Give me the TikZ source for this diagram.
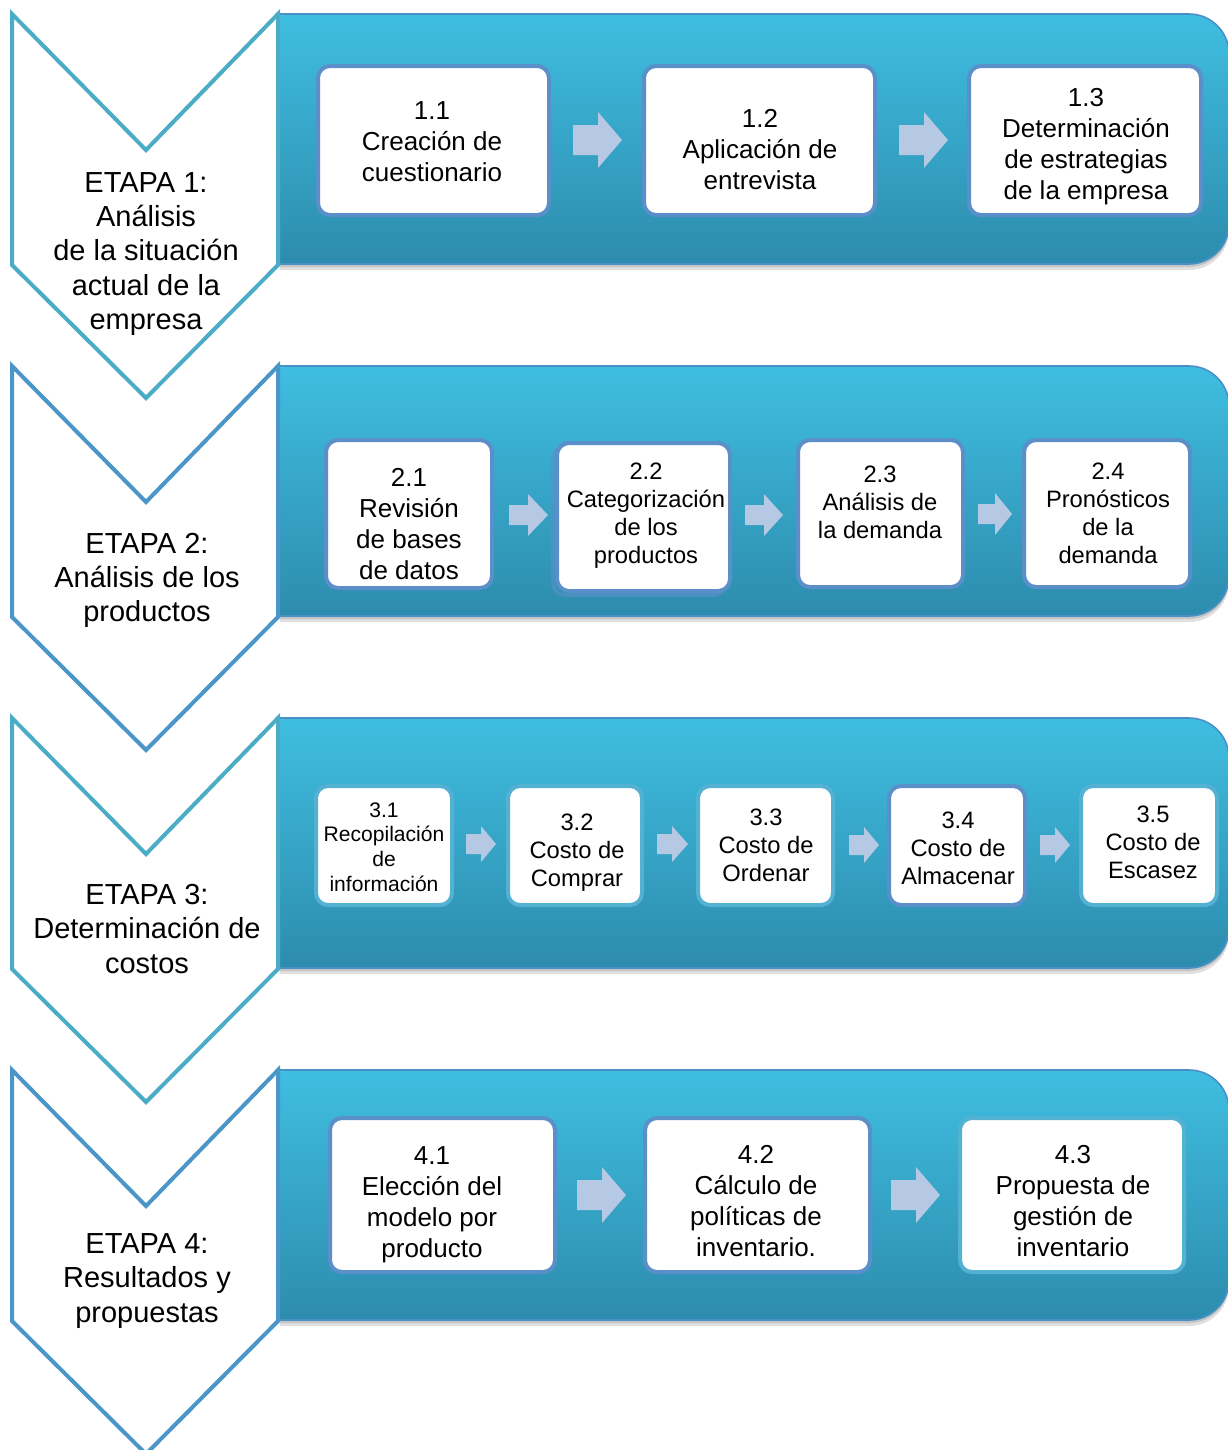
\documentclass[tikz,border=0pt]{standalone}
\usepackage{fontspec}
\setmainfont{Liberation Sans}
\usetikzlibrary{fit}
\definecolor{paneltop}{HTML}{3FBEE1}
\definecolor{panelbot}{HTML}{2D8CAD}
\definecolor{panelline}{HTML}{4A90C6}
\definecolor{chevteal}{HTML}{4BACC6}
\definecolor{chevblue}{HTML}{4A96C8}
\definecolor{arrowfill}{HTML}{B5C8E4}
\definecolor{boxblue}{HTML}{5B8FC9}
\definecolor{boxteal}{HTML}{55B1D2}
\newcommand{\blkarrow}[6]{% x1, xhead, x2, yc, shaft half, head half
  \fill[arrowfill] (#1,{#4-#5}) -- (#2,{#4-#5}) -- (#2,{#4-#6}) -- (#3,#4) -- (#2,{#4+#6}) -- (#2,{#4+#5}) -- (#1,{#4+#5}) -- cycle;}
\tikzset{
  chevron/.style={fill=white, line width=3pt, line join=miter},
  panel/.style={top color=paneltop, bottom color=panelbot, draw=panelline, line width=1.2pt, rounded corners=30pt},
  panelshadow/.style={fill=black, opacity=0.12, rounded corners=30pt},
  boxb/.style={draw=boxblue, fill=white, line width=3pt, rounded corners=9pt, inner sep=0pt},
  boxt/.style={boxb, draw=boxteal},
  etapa/.style={align=center, font=\fontsize{21.75}{25.8}\selectfont, inner sep=0pt, yshift=-2.6pt},
  tbig/.style={align=center, font=\fontsize{19.5}{23.25}\selectfont, inner sep=0pt, yshift=-2.25pt},
  tmid/.style={align=center, font=\fontsize{17.8}{21}\selectfont, inner sep=0pt, yshift=-2.25pt},
  tsmall/.style={align=center, font=\fontsize{15.8}{18.5}\selectfont, inner sep=0pt, yshift=-1.5pt},
}
\begin{document}
\begin{tikzpicture}[x=0.75pt, y=-0.75pt]
\clip (0,0) rectangle (1228,1450);
\fill[white] (0,0) rectangle (1228,1450);
% panels
\begin{scope}
  \clip (279.5,0) rectangle (1240,1450);
  \foreach \dy in {0,352,704,1056} {
    \fill[panelshadow] (238,{19+\dy}) rectangle (1229,{270+\dy});
    \fill[panelshadow] (238,{17+\dy}) rectangle (1229,{267+\dy});
    \path[panel] (238,{14+\dy}) rectangle (1229,{264+\dy});
  }
\end{scope}
% chevrons
\foreach \dy/\col in {0/chevteal,352/chevblue,704/chevteal,1056/chevblue} {
  \draw[chevron, draw=\col] (12,{14+\dy}) -- (146,{150+\dy}) -- (278,{14+\dy}) -- (278,{265+\dy}) -- (146,{398+\dy}) -- (12,{265+\dy}) -- cycle;
}
\node[etapa] (e1) at (146,250.5) {ETAPA 1:\\Análisis\\de la situación\\actual de la\\empresa};
\node[etapa] (e2) at (147,577) {ETAPA 2:\\Análisis de los\\productos};
\node[etapa] (e3) at (147,925.5) {ETAPA 3:\\Determinación de\\costos};
\node[etapa] (e4) at (147,1277.5) {ETAPA 4:\\Resultados y\\propuestas};

% row 1
\node[boxb, fit={(318,66) (549,215)}] (b11) {};
\node[boxb, fit={(644,66) (875,215)}] (b12) {};
\node[boxb, fit={(969,66) (1201,215)}] (b13) {};
\node[tbig] (t11) at (432,139) {1.1\\Creación de\\cuestionario};
\node[tbig] (t12) at (760,147) {1.2\\Aplicación de\\entrevista};
\node[tbig] (t13) at (1086,143.5) {1.3\\Determinación\\de estrategias\\de la empresa};
\blkarrow{573}{598}{622}{140}{15}{28}
\blkarrow{899}{924}{948}{140}{15}{28}

% row 2
\node[boxb, fit={(326,440) (492,588)}] (b21) {};
\draw[boxb, fill=none, draw opacity=0.6] (553,447) rectangle (726,595);
\node[boxb, fit={(557,443) (730,591)}] (b22) {};
\node[boxb, fit={(798,440) (963,587)}] (b23) {};
\node[boxb, fit={(1024,440) (1190,587)}] (b24) {};
\node[tbig] (t21) at (409,521.5) {2.1\\Revisión\\de bases\\de datos};
\node[tmid] (t22) at (646,512.5) {2.2\\Categorización\\de los\\productos};
\node[tmid] (t23) at (880,499.5) {2.3\\Análisis de\\la demanda};
\node[tmid] (t24) at (1108,510.5) {2.4\\Pronósticos\\de la\\demanda};
\blkarrow{509}{528}{548}{515}{10}{21}
\blkarrow{745}{764}{783}{515}{10}{21}
\blkarrow{978}{995}{1012}{514}{10}{21}

% row 3
\node[boxt, fit={(316,786) (452,905)}] (b31) {};
\node[boxt, fit={(508,786) (642,905)}] (b32) {};
\node[boxt, fit={(698,786) (833,905)}] (b33) {};
\node[boxb, fit={(889,786) (1025,905)}] (b34) {};
\node[boxt, fit={(1081,786) (1217,905)}] (b35) {};
\node[tsmall] (t31) at (384,845) {3.1\\Recopilación\\de\\información};
\node[tmid] (t32) at (577,850) {3.2\\Costo de\\Comprar};
\node[tmid] (t33) at (766,842.5) {3.3\\Costo de\\Ordenar};
\node[tmid] (t34) at (958,845) {3.4\\Costo de\\Almacenar};
\node[tmid] (t35) at (1153,839.5) {3.5\\Costo de\\Escasez};
\blkarrow{466}{481}{496}{844}{10}{18}
\blkarrow{657}{672}{688}{844}{10}{18}
\blkarrow{849}{864}{879}{845}{10}{18}
\blkarrow{1040}{1055}{1070}{845}{10}{18}

% row 4
\node[boxb, fit={(330,1118) (555,1272)}] (b41) {};
\node[boxb, fit={(645,1118) (870,1272)}] (b42) {};
\node[boxt, fit={(960,1118) (1184,1272)}] (b43) {};
\node[tbig] (t41) at (432,1201.5) {4.1\\Elección del\\modelo por\\producto};
\node[tbig] (t42) at (756,1198) {4.2\\Cálculo de\\políticas de\\inventario.};
\node[tbig] (t43) at (1073,1198) {4.3\\Propuesta de\\gestión de\\inventario};
\blkarrow{577}{602}{626}{1195}{15}{28}
\blkarrow{891}{916}{940}{1195}{15}{28}
\end{tikzpicture}
\end{document}
